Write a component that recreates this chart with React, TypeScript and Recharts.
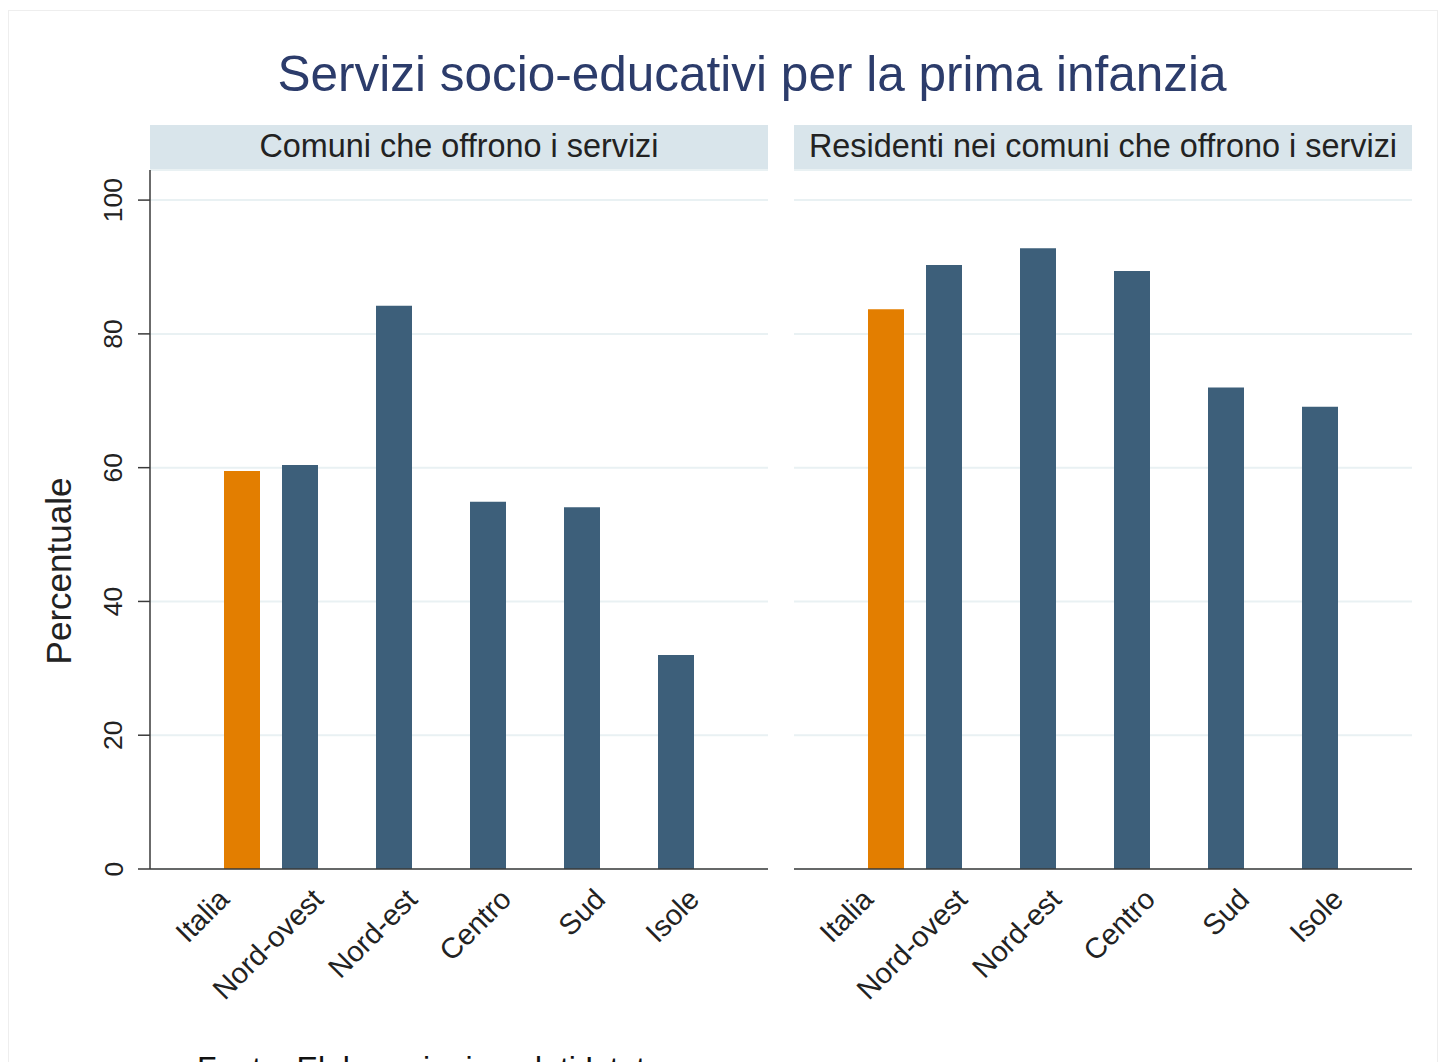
import { BarChart, Bar, XAxis, YAxis, CartesianGrid } from 'recharts';

// Categories (Italia is the national total, the rest are macro-areas)
const categories = ['Italia', 'Nord-ovest', 'Nord-est', 'Centro', 'Sud', 'Isole'];

// Percent of municipalities offering the services
const comuni = [59.5, 60.4, 84.2, 54.9, 54.1, 32.0];
// Percent of residents living in municipalities offering the services
const residenti = [83.7, 90.3, 92.8, 89.4, 72.0, 69.1];

const yTicks = [0, 20, 40, 60, 80, 100];

const panelTitles = ['Comuni che offrono i servizi', 'Residenti nei comuni che offrono i servizi'];

const ORANGE = '#e37e00';
const NAVY = '#3d5f7a';
const FONT = '"Liberation Sans", Arial, sans-serif';

// Italia goes in its own series so it sits in the right-hand slot of its band
function buildRows(values: number[]) {
  return categories.map((name, i) => ({
    name,
    regione: i === 0 ? null : values[i],
    italia: i === 0 ? values[i] : null,
  }));
}

function XTick(props: any) {
  const { x, y, payload } = props;
  const px = x + 7;
  const py = y + 24;
  return (
    <text
      x={px}
      y={py}
      transform={`rotate(-45, ${px}, ${py})`}
      textAnchor="end"
      fontSize={29}
      fontFamily={FONT}
      fill="#222"
    >
      {payload.value}
    </text>
  );
}

function YTick(props: any) {
  const { x, y, payload } = props;
  const px = x - 15.5;
  return (
    <text
      x={px}
      y={y}
      transform={`rotate(-90, ${px}, ${y})`}
      textAnchor="middle"
      fontSize={26.5}
      fontFamily={FONT}
      fill="#222"
    >
      {payload.value}
    </text>
  );
}

function Panel({ values, showY }: { values: number[]; showY: boolean }) {
  const data = buildRows(values);
  return (
    <BarChart
      width={showY ? 800 : 684}
      height={1062}
      data={data}
      margin={{ top: 170, right: 32, bottom: 73, left: showY ? 0 : 34 }}
      barSize={36}
      barGap={0}
    >
      <CartesianGrid vertical={false} stroke="#e9f1f3" strokeWidth={2} />
      <XAxis
        dataKey="name"
        height={120}
        padding={{ left: 27, right: 27 }}
        tickLine={false}
        axisLine={{ stroke: '#3a3a3a', strokeWidth: 1.5 }}
        tick={<XTick />}
        interval={0}
      />
      <YAxis
        hide={!showY}
        width={showY ? 150 : 0}
        domain={[0, 104.5]}
        ticks={yTicks}
        allowDataOverflow
        tickSize={12}
        tickMargin={0}
        tickLine={{ stroke: '#3a3a3a', strokeWidth: 1.5 }}
        axisLine={{ stroke: '#3a3a3a', strokeWidth: 1.5 }}
        tick={<YTick />}
      />
      <Bar dataKey="regione" fill={NAVY} isAnimationActive={false} />
      <Bar dataKey="italia" fill={ORANGE} isAnimationActive={false} />
    </BarChart>
  );
}

export default function App() {
  return (
    <div
      style={{
        position: 'fixed',
        left: 0,
        top: 0,
        width: 1444,
        height: 1062,
        overflow: 'hidden',
        background: '#fff',
        fontFamily: FONT,
      }}
    >
      <svg width={1444} height={1062} style={{ position: 'absolute', left: 0, top: 0 }}>
        <rect x={8.5} y={10.5} width={1429} height={1100} fill="none" stroke="#eeeeee" />
        <text x={752} y={91} textAnchor="middle" fontSize={49.5} fontFamily={FONT} fill="#2c3c6b">
          Servizi socio-educativi per la prima infanzia
        </text>
        <rect x={150} y={125} width={618} height={44} fill="#d9e5eb" />
        <rect x={794} y={125} width={618} height={44} fill="#d9e5eb" />
        <text x={459} y={157} textAnchor="middle" fontSize={32.4} fontFamily={FONT} fill="#222">
          {panelTitles[0]}
        </text>
        <text x={1103} y={157} textAnchor="middle" fontSize={32.4} fontFamily={FONT} fill="#222">
          {panelTitles[1]}
        </text>
        <text
          x={71}
          y={571}
          transform="rotate(-90, 71, 571)"
          textAnchor="middle"
          fontSize={35}
          fontFamily={FONT}
          fill="#222"
        >
          Percentuale
        </text>
        <text x={197} y={1079} fontSize={32} fontFamily={FONT} fill="#111">
          Fonte: Elaborazioni su dati Istat
        </text>
      </svg>
      <div style={{ position: 'absolute', left: 0, top: 0 }}>
        <Panel values={comuni} showY />
      </div>
      <div style={{ position: 'absolute', left: 760, top: 0 }}>
        <Panel values={residenti} showY={false} />
      </div>
    </div>
  );
}
